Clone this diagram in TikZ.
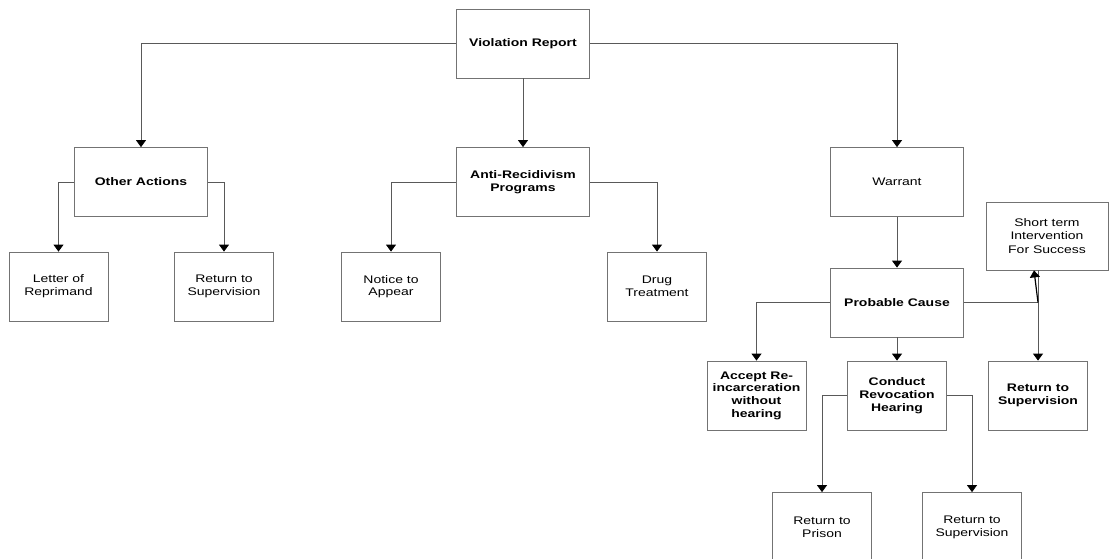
\documentclass[tikz,border=0pt]{standalone}
\usepackage{fontspec}
\setmainfont[FakeStretch=1.27]{Liberation Sans}
\usetikzlibrary{positioning,arrows.meta}
\tikzset{caja/.style={draw=black!55, line width=0.8pt, fill=white, align=center, inner sep=2pt, font=\fontsize{11}{12.7}\selectfont}}
\tikzset{grande/.style={caja, minimum width=133pt, minimum height=69pt}}
\tikzset{chica/.style={caja, minimum width=99pt, minimum height=69pt}}
\tikzset{negrita/.style={font=\fontsize{11}{12.7}\selectfont\bfseries}}
\tikzset{arista/.style={draw=black!65, line width=0.8pt}}
\tikzset{flecha/.style={arista, -{Triangle[width=10pt,length=7pt,color=black]}}}
\begin{document}
\begin{tikzpicture}[x=1pt, y=-1pt, on grid]
            \useasboundingbox (0,0) rectangle (1110,558);
            \node[grande, negrita] (vr) at (523,43.5) {Violation Report};
            \node[grande, negrita, below=138.5pt of vr] (ar) {Anti-Recidivism\\Programs};
            \node[grande, negrita, left=382pt of ar] (oa) {Other Actions};
            \node[grande, right=374pt of ar] (w) {Warrant};

            \node[chica, below left=  104.5pt and 82.5pt of oa] (lr)  {Letter of\\Reprimand};
            \node[chica, below right= 104.5pt and 83pt   of oa] (rs1) {Return to\\Supervision};
            \node[chica, below left=  104.5pt and 132pt  of ar] (na)  {Notice to\\Appear};
            \node[chica, below right= 104.5pt and 134pt  of ar] (dt)  {Drug\\Treatment};

            \node[grande, negrita, below=120.5pt of w] (pc) {Probable Cause};
            \node[chica, negrita, below left=  93pt and 140.5pt of pc] (ac)  {Accept Re-\\incarceration\\without\\hearing};
            \node[chica, negrita, below=93pt of pc] (cr) {Conduct\\Revocation\\Hearing};
            \node[chica, negrita, below right= 93pt and 141pt of pc] (rs2) {Return to\\Supervision};
            \node[caja, minimum width=122pt, minimum height=68pt, above right= 66.5pt and 150pt of pc, font=\fontsize{11}{13.5}\selectfont] (st) {Short term\\Intervention\\For Success};

            \node[chica, below left=  131.5pt and 75pt of cr] (rp)  {Return to\\Prison};
            \node[chica, below right= 131.5pt and 75pt of cr] (rs3) {Return to\\Supervision};

            \draw[flecha] (vr.west) -| (oa.north);
            \draw[flecha] (vr.east) -| (w.north);
            \draw[flecha] (vr) -- (ar);
            \draw[flecha] (oa.west) -| (lr.north);
            \draw[flecha] (oa.east) -| (rs1.north);
            \draw[flecha] (ar.west) -| (na.north);
            \draw[flecha] (ar.east) -| (dt.north);
            \draw[flecha] (w) -- (pc);
            \draw[flecha] (pc.west) -| (ac.north);
            \draw[flecha] (pc) -- (cr);
            \coordinate (cruce) at (rs2.north |- pc.east);
            \draw[arista] (pc.east) -- (cruce);
            \draw[flecha] (cruce |- st.south) -- (rs2);
            \draw[flecha, draw=black, line width=1.2pt] (cruce) -- ([xshift=-4pt]cruce |- st.south);
            \draw[flecha] (cr.west) -| (rp.north);
            \draw[flecha] (cr.east) -| (rs3.north);
        \end{tikzpicture}
\end{document}
